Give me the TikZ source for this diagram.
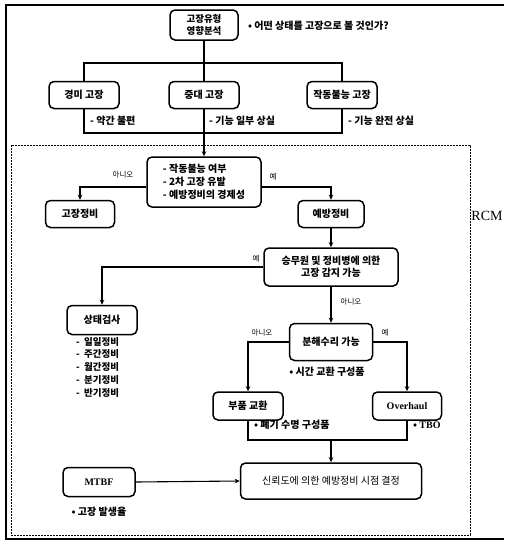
\documentclass[tikz,border=0pt]{standalone}
\usepackage{fontspec}
\setmainfont{Liberation Serif}
\newfontfamily\kr{Noto Sans CJK KR}
\usetikzlibrary{arrows.meta}
\tikzset{
  box/.style={draw, line width=1.5pt, rounded corners=5pt, minimum width=70pt, minimum height=27pt,
    inner sep=2pt, align=center, font=\kr\bfseries\fontsize{10}{12}\selectfont},
  conn/.style={line width=1.1pt},
  arr/.style={conn, -{Stealth[length=5pt,width=4.5pt]}},
  note/.style={inner sep=0pt, font=\kr\bfseries\fontsize{10}{12}\selectfont},
  lbl/.style={inner sep=0pt, font=\kr\fontsize{7.5}{9}\selectfont},
}
\begin{document}
\begin{tikzpicture}[x=1pt,y=-1pt]
\useasboundingbox (0,0) rectangle (504,541);
% frames
\draw[line width=1.2pt] (504,5) -- (6,5) -- (6,539) -- (504,539);
\draw[line width=0.5pt, dash pattern=on 2pt off 1pt] (11,145) rectangle (470,535);
\node[font=\fontsize{14}{16}\selectfont] (rcm) at (487,216) {RCM};

% top tree
\node[box, minimum width=68pt, minimum height=30pt, font=\kr\bfseries\fontsize{9.5}{11.5}\selectfont] (top) at (204,25) {고장유형\\영향분석};
\node[note, anchor=west] (q) at (248,26) {• 어떤 상태를 고장으로 볼 것인가?};
\node[box] (b1) at (84,95) {경미 고장};
\node[box] (b2) at (204,95) {중대 고장};
\node[box] (b3) at (342,95) {작동불능 고장};
\coordinate (h1) at (204,63);
\coordinate (h2) at (204,133);
\draw[conn] (top.south) -- (b2.north);
\draw[conn] (b1.north) -- (b1.north |- h1) -- (b3.north |- h1) -- (b3.north);
\draw[conn] (b1.south) -- (b1.south |- h2) -- (b3.south |- h2) -- (b3.south);
\draw[conn] (b2.south) -- (h2);
\node[note, anchor=west] (n1) at (90,121) {- 약간 불편};
\node[note, anchor=west] (n2) at (209,121) {- 기능 일부 상실};
\node[note, anchor=west] (n3) at (348,121) {- 기능 완전 상실};

% decision 1
\node[box, minimum width=114pt, minimum height=50pt, align=left, inner sep=5pt,
  font=\kr\bfseries\fontsize{10}{13}\selectfont] (d1) at (204,182)
  {- 작동불능 여부\\- 2차 고장 유발\\- 예방정비의 경제성};
\draw[arr] (h2) -- (d1.north);
\node[box, minimum width=69pt] (r1) at (80,214) {고장정비};
\node[box, minimum width=66pt] (p1) at (331,214) {예방정비};
\draw[arr] ([yshift=-5pt]d1.west) -| (r1.north);
\draw[arr] ([yshift=-5pt]d1.east) -| (p1.north);
\node[lbl] (l1) at (123,175) {아니오};
\node[lbl] (l2) at (273,177) {예};

% decision 2
\node[box, minimum width=134pt, minimum height=38pt] (d2) at (331,267) {승무원 및 정비병에 의한\\고장 감지 가능};
\draw[arr] (p1.south) -- (d2.north);
\node[box, minimum width=70pt, minimum height=29pt] (s1) at (102,320) {상태검사};
\draw[arr] (d2.west) -| (s1.north);
\node[lbl] (l3) at (256,259) {예};
\node[note, anchor=north west, align=left, font=\kr\bfseries\fontsize{9.5}{12.7}\selectfont] (list) at (76,337)
  {-\ \ 일일정비\\-\ \ 주간정비\\-\ \ 월간정비\\-\ \ 분기정비\\-\ \ 반기정비};

% decision 3
\node[box, minimum width=83pt, minimum height=37pt] (d3) at (331,342) {분해수리 가능};
\draw[arr] (d2.south) -- (d3.north);
\node[lbl] (l4) at (351,302) {아니오};
\node[lbl] (l5) at (262,333) {아니오};
\node[lbl] (l6) at (385,333) {예};
\node[note] (n4) at (327,372) {• 시간 교환 구성품};
\node[box, minimum width=70pt, minimum height=28pt] (e1) at (248,406) {부품 교환};
\node[box, minimum width=69pt, minimum height=28pt, font=\bfseries\fontsize{10}{12}\selectfont] (e2) at (407,406) {Overhaul};
\draw[arr] (d3.west) -| (e1.north);
\draw[arr] (d3.east) -| (e2.north);
\node[note, anchor=west] (n5) at (254,425) {• 폐기 수명 구성품};
\node[note, anchor=west] (n6) at (413,425) {• \textrm{TBO}};

% final
\coordinate (m) at (331,440);
\node[box, minimum width=181pt, minimum height=36pt, font=\kr\fontsize{10}{12}\selectfont] (f) at (331,481) {신뢰도에 의한 예방정비 시점 결정};
\draw[conn] (e1.south) -- (e1.south |- m) -- (e2.south |- m) -- (e2.south);
\draw[arr] (m) -- (f.north);
\node[box, minimum width=72pt, minimum height=29pt, font=\bfseries\fontsize{10}{12}\selectfont] (mt) at (99,482) {MTBF};
\draw[arr] (mt.east) -- (f.west);
\node[note] (n7) at (99,512) {• 고장 발생율};
\end{tikzpicture}
\end{document}
